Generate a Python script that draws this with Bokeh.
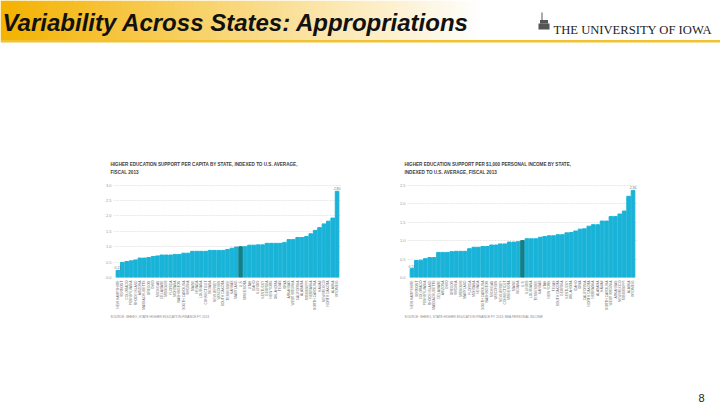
import math
from bokeh.plotting import figure
from bokeh.models import (FactorRange, Range1d, FixedTicker, PrintfTickFormatter,
                          Title, Spacer, ColumnDataSource)
from bokeh.layouts import column, row
from bokeh.core.properties import value
from bokeh.embed import file_html
from bokeh.resources import INLINE

# ---------------- data ----------------
slide_title = "Variability Across States: Appropriations"
logo_text = "THE UNIVERSITY OF IOWA"
page_number = "8"

left_title1 = "HIGHER EDUCATION SUPPORT PER CAPITA BY STATE, INDEXED TO U.S. AVERAGE,"
left_title2 = "FISCAL 2013"
left_source = "SOURCE: SHEEO, STATE HIGHER EDUCATION FINANCE FY 2013"
left_states = ["NEW HAMPSHIRE", "VERMONT", "COLORADO", "PENNSYLVANIA", "RHODE ISLAND",
               "ARIZONA", "MASSACHUSETTS", "OREGON", "OHIO", "MICHIGAN", "DELAWARE",
               "MISSOURI", "FLORIDA", "MONTANA", "WASHINGTON", "SOUTH CAROLINA",
               "VIRGINIA", "MAINE", "NEVADA", "LOUISIANA", "CONNECTICUT", "INDIANA",
               "NEW JERSEY", "WISCONSIN", "SOUTH DAKOTA", "TENNESSEE", "KANSAS",
               "MARYLAND", "U.S.", "MINNESOTA", "UTAH", "IDAHO", "ILLINOIS", "KENTUCKY",
               "GEORGIA", "NEW YORK", "OKLAHOMA", "TEXAS", "IOWA", "ARKANSAS",
               "WEST VIRGINIA", "CALIFORNIA", "ALABAMA", "MISSISSIPPI", "NEBRASKA",
               "NORTH CAROLINA", "HAWAII", "NEW MEXICO", "NORTH DAKOTA", "ALASKA",
               "WYOMING"]
left_values = [0.23, 0.49, 0.52, 0.54, 0.57, 0.63, 0.63, 0.65, 0.68, 0.70, 0.73,
               0.73, 0.73, 0.75, 0.75, 0.79, 0.79, 0.85, 0.85, 0.85, 0.85, 0.88,
               0.88, 0.88, 0.88, 0.91, 0.95, 0.99, 1.00, 1.00, 1.05, 1.05, 1.06,
               1.06, 1.11, 1.11, 1.11, 1.11, 1.14, 1.23, 1.23, 1.30, 1.30, 1.33,
               1.42, 1.53, 1.62, 1.74, 1.83, 1.93, 2.80]
left_ticks = [0.0, 0.5, 1.0, 1.5, 2.0, 2.5, 3.0]

right_title1 = "HIGHER EDUCATION SUPPORT PER $1,000 PERSONAL INCOME BY STATE,"
right_title2 = "INDEXED TO U.S. AVERAGE, FISCAL 2013"
right_source = "SOURCE: SHEEO, STATE HIGHER EDUCATION FINANCE FY 2013; BEA PERSONAL INCOME"
right_states = ["NEW HAMPSHIRE", "VERMONT", "COLORADO", "PENNSYLVANIA", "RHODE ISLAND",
                "MASSACHUSETTS", "DELAWARE", "ARIZONA", "OHIO", "OREGON", "VIRGINIA",
                "MISSOURI", "MARYLAND", "FLORIDA", "MONTANA", "NEVADA", "SOUTH CAROLINA",
                "WASHINGTON", "MICHIGAN", "WISCONSIN", "NEW JERSEY", "CONNECTICUT",
                "MINNESOTA", "MAINE", "INDIANA", "U.S.", "ILLINOIS", "LOUISIANA",
                "TENNESSEE", "KANSAS", "UTAH", "NEW YORK", "TEXAS", "SOUTH DAKOTA",
                "GEORGIA", "KENTUCKY", "OKLAHOMA", "IDAHO", "IOWA", "CALIFORNIA",
                "NORTH DAKOTA", "NEBRASKA", "ALABAMA", "HAWAII", "NORTH CAROLINA",
                "WEST VIRGINIA", "ARKANSAS", "NEW MEXICO", "MISSISSIPPI", "ALASKA",
                "WYOMING"]
right_values = [0.24, 0.46, 0.47, 0.51, 0.54, 0.54, 0.68, 0.68, 0.68, 0.70, 0.71,
                0.71, 0.71, 0.78, 0.82, 0.82, 0.84, 0.84, 0.88, 0.88, 0.91, 0.91,
                0.96, 0.96, 0.97, 1.00, 1.05, 1.05, 1.05, 1.09, 1.11, 1.13, 1.13,
                1.16, 1.16, 1.21, 1.22, 1.26, 1.31, 1.32, 1.39, 1.43, 1.43, 1.53,
                1.53, 1.65, 1.65, 1.72, 1.80, 2.20, 2.36]
right_ticks = [0.0, 0.5, 1.0, 1.5, 2.0, 2.5]

# ---------------- styles ----------------
BAR = "#1AB3D8"
BAR_US = "#137F86"
FONT = "Liberation Sans"


def make_chart(states, vals, t1, t2, src_note, ticks, width, height,
               top, bottom, right, title_offset):
    p = figure(x_range=FactorRange(factors=states, range_padding=0.02),
               y_range=Range1d(0, ticks[-1] + 0.02),
               width=width, height=height, title=None,
               output_backend="svg", toolbar_location=None,
               min_border_left=0, min_border_right=right,
               min_border_top=top, min_border_bottom=bottom)
    colors = [BAR_US if s == "U.S." else BAR for s in states]
    src = ColumnDataSource(dict(state=states, val=vals, color=colors))
    p.vbar(x="state", top="val", width=0.82, color="color", source=src)
    # value labels on first and last bars
    ends = ColumnDataSource(dict(state=[states[0], states[-1]],
                                 val=[vals[0], vals[-1]],
                                 lab=["%.2f" % vals[0], "%.2f" % vals[-1]]))
    p.text(x="state", y="val", text="lab", source=ends, text_font=value(FONT),
           text_font_size="3.5px", text_color="#777777", text_align="center",
           text_baseline="bottom", y_offset=-1)

    p.outline_line_color = None
    p.xgrid.visible = False
    p.ygrid.grid_line_color = "#d6d6d6"
    p.ygrid.grid_line_dash = "2 1"
    p.ygrid.grid_line_width = 0.6

    p.yaxis.ticker = FixedTicker(ticks=ticks)
    p.yaxis.formatter = PrintfTickFormatter(format="%.1f")
    p.yaxis.axis_line_color = None
    p.yaxis.major_tick_line_color = None
    p.yaxis.minor_tick_line_color = None
    p.yaxis.major_tick_out = 0
    p.yaxis.minor_tick_out = 0
    p.yaxis.major_label_text_font_size = "4px"
    p.yaxis.major_label_text_color = "#999999"
    p.yaxis.major_label_text_font = FONT
    p.yaxis.major_label_standoff = 2

    p.xaxis.axis_line_color = None
    p.xaxis.major_tick_line_color = None
    p.xaxis.major_tick_out = 0
    p.xaxis.major_label_orientation = math.pi / 2
    p.xaxis.major_label_text_font_size = "3.3px"
    p.xaxis.major_label_text_color = "#666666"
    p.xaxis.major_label_text_font = FONT
    p.xaxis.major_label_standoff = 3

    p.add_layout(Title(text=t1 + "\n" + t2, align="left", offset=title_offset,
                       text_font_size="4.6px", text_font=FONT,
                       text_font_style="bold", text_color="#3d3d3d",
                       text_line_height=1.45, standoff=20), "above")
    p.add_layout(Title(text=src_note, align="left", offset=title_offset,
                       text_font_size="3.2px", text_font=FONT,
                       text_font_style="normal", text_color="#8a8a8a",
                       standoff=0), "below")
    return p


left = make_chart(left_states, left_values, left_title1, left_title2, left_source,
                  left_ticks, 245, 172, 34, 44, 6, -3)
right = make_chart(right_states, right_values, right_title1, right_title2, right_source,
                   right_ticks, 249, 172, 33, 45, 8, -3)

# ---------------- header (slide band) ----------------
header = figure(width=720, height=44, x_range=Range1d(0, 720), y_range=Range1d(44, 0),
                x_axis_type=None, y_axis_type=None, output_backend="svg",
                toolbar_location=None, min_border=0)
header.outline_line_color = None
header.grid.visible = False
n = 80
gx0, gx1 = 0.0, 480.0
c0 = (244, 178, 0)
xs_l, xs_r, cols = [], [], []
for i in range(n):
    a = gx0 + (gx1 - gx0) * i / n
    b = gx0 + (gx1 - gx0) * (i + 1) / n + 0.6
    t = (i + 0.5) / n
    r = int(c0[0] + (255 - c0[0]) * t)
    g = int(c0[1] + (255 - c0[1]) * t)
    bl = int(c0[2] + (255 - c0[2]) * t)
    xs_l.append(a)
    xs_r.append(b)
    cols.append("#%02x%02x%02x" % (r, g, bl))
header.quad(left=xs_l, right=xs_r, top=[0] * n, bottom=[39.5] * n, color=cols,
            line_color=None)
header.quad(left=[0], right=[720], top=[39.5], bottom=[42], color="#F0C232",
            line_color=None)
header.text(x=[2], y=[22], text=[slide_title], text_font=value(FONT),
            text_font_style="bold italic", text_font_size="24px",
            text_color="#111111", text_baseline="alphabetic")
# small building mark
header.quad(left=[538], right=[549], top=[23], bottom=[29], color="#555555",
            line_color=None)
header.segment(x0=[541.5], y0=[12], x1=[541.5], y1=[23], line_color="#555555",
               line_width=1)
header.quad(left=[539.5], right=[547.5], top=[19.5], bottom=[23], color="#555555",
            line_color=None)
header.text(x=[553], y=[29], text=[logo_text], text_font=value("Liberation Serif"),
            text_font_size="12.6px", text_color="#222222", text_baseline="alphabetic")

# ---------------- footer ----------------
footer = figure(width=720, height=83, x_range=Range1d(0, 720), y_range=Range1d(405, 322),
                x_axis_type=None, y_axis_type=None, output_backend="svg",
                toolbar_location=None, min_border=0)
footer.outline_line_color = None
footer.grid.visible = False
footer.text(x=[704], y=[397], text=[page_number], text_font=value(FONT),
            text_font_size="11px", text_color="#222222", text_align="right",
            text_baseline="middle")

charts = row(Spacer(width=102, height=172), left, Spacer(width=49, height=172), right)
page = column(header, Spacer(width=720, height=106), charts, footer)

open("out.html", "w").write(file_html(page, INLINE))
